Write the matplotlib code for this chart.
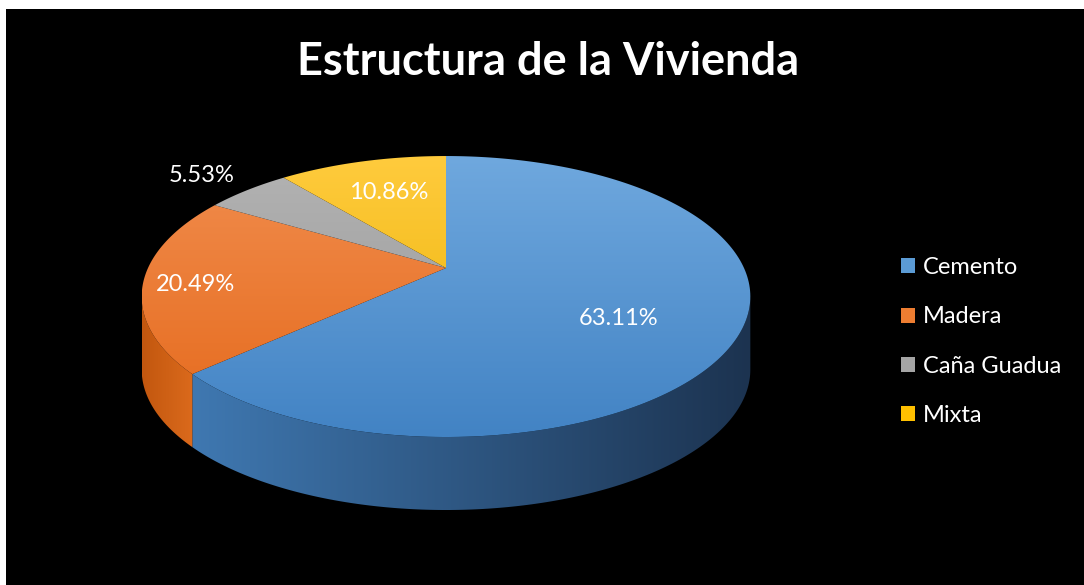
import numpy as np
import matplotlib
matplotlib.use("Agg")
import matplotlib.pyplot as plt
from matplotlib.patches import Polygon, Rectangle, Patch
from matplotlib.colors import to_rgb

# ---- data ----
categories = ["Cemento", "Madera", "Caña Guadua", "Mixta"]
values = [63.11, 20.49, 5.53, 10.86]
title = "Estructura de la Vivienda"

# ---- style ----
top_light = ["#6fa8de", "#f18d4e", "#b3b3b3", "#ffcb3d"]
top_dark = ["#4283c4", "#e5691b", "#959595", "#e9b000"]
side_light = ["#3f78b1", "#c2570f", "#8a8a8a", "#c99a00"]
side_dark = ["#1c3350", "#db6a1c", "#6b6b6b", "#a07a00"]
legend_colors = ["#5b9bd5", "#ed7d31", "#a5a5a5", "#ffc000"]

W, H = 1084, 585
fig = plt.figure(figsize=(W / 100, H / 100), dpi=100, facecolor="white")
ax = fig.add_axes([0, 0, 1, 1])
ax.set_xlim(0, W)
ax.set_ylim(H, 0)
ax.axis("off")
ax.add_patch(Rectangle((6, 9), W - 6, H - 9, facecolor="black", edgecolor="none", zorder=0))

# perspective projection of the unit circle
CX, CY = 446, 268
A, B, K = 298, 134.7, 0.203
DEPTH = 73


def proj(u, v):
    d = 1 + K * v
    return CX + A * u / d, CY - B * v / d


def arc(t0, t1, n=200, r=1.0):
    t = np.linspace(t0, t1, n)
    return proj(r * np.cos(t), r * np.sin(t))


def gradient_image(c0, c1, vertical):
    f = np.linspace(0, 1, 256)
    c0, c1 = np.array(to_rgb(c0)), np.array(to_rgb(c1))
    cols = c0[None, :] * (1 - f[:, None]) + c1[None, :] * f[:, None]
    return cols[:, None, :] if vertical else cols[None, :, :]


# slice angles: start at 12 o'clock, clockwise
fr = np.array(values) / sum(values)
starts = np.pi / 2 - 2 * np.pi * np.concatenate([[0], np.cumsum(fr)[:-1]])
ends = starts - 2 * np.pi * fr

ex, ey = arc(0, 2 * np.pi, 400)
ytop, ybot = ey.min(), ey.max()
lo_side, hi_side = np.pi + np.arcsin(K), 2 * np.pi - np.arcsin(K)

for i in range(len(values)):
    # side (front visible part)
    a0, a1 = ends[i] % (2 * np.pi), starts[i] % (2 * np.pi)
    if a1 <= a0:
        a1 += 2 * np.pi
    for off in (0, 2 * np.pi, -2 * np.pi):
        s0, s1 = max(a0 + off, lo_side), min(a1 + off, hi_side)
        if s1 > s0:
            x, y = arc(s0, s1)
            xy = np.vstack([np.column_stack([x, y]),
                            np.column_stack([x[::-1], y[::-1] + DEPTH])])
            poly = Polygon(xy, closed=True, facecolor="none", edgecolor="none")
            ax.add_patch(poly)
            im = ax.imshow(gradient_image(side_light[i], side_dark[i], False),
                           extent=(x.min(), x.max(), y.max() + DEPTH, y.min()),
                           origin="upper", aspect="auto", interpolation="bilinear", zorder=1)
            im.set_clip_path(poly)

    # top face
    x, y = arc(starts[i], ends[i])
    xy = np.vstack([[proj(0, 0)], np.column_stack([x, y])])
    poly = Polygon(xy, closed=True, facecolor="none", edgecolor="none")
    ax.add_patch(poly)
    im = ax.imshow(gradient_image(top_light[i], top_dark[i], True),
                   extent=(ex.min(), ex.max(), ybot, ytop),
                   origin="upper", aspect="auto", interpolation="bilinear", zorder=2)
    im.set_clip_path(poly)

# labels
label_r = [0.6, 0.83, 1.27, 0.64]
label_dy = [16, 5, 3, -3]
for i, v in enumerate(values):
    m = (starts[i] + ends[i]) / 2
    lx, ly = proj(label_r[i] * np.cos(m), label_r[i] * np.sin(m))
    ax.text(lx, ly + label_dy[i], f"{v:.2f}%", color="white", fontsize=17,
            family="Lato", ha="center", va="center", zorder=5)

ax.text(548, 62, title, color="white", fontsize=32.5, fontweight="bold",
        family="Lato", ha="center", va="center", zorder=5)

handles = [Patch(facecolor=c, edgecolor="none") for c in legend_colors]
leg = ax.legend(handles, categories, loc="center left", bbox_to_anchor=(0.820, 0.416),
                frameon=False, prop={"family": "Lato", "size": 17},
                handlelength=0.6, handleheight=0.6, handletextpad=0.35,
                labelspacing=1.2, borderpad=0)
for t in leg.get_texts():
    t.set_color("white")

fig.savefig("out.png", dpi=100, facecolor="white")
